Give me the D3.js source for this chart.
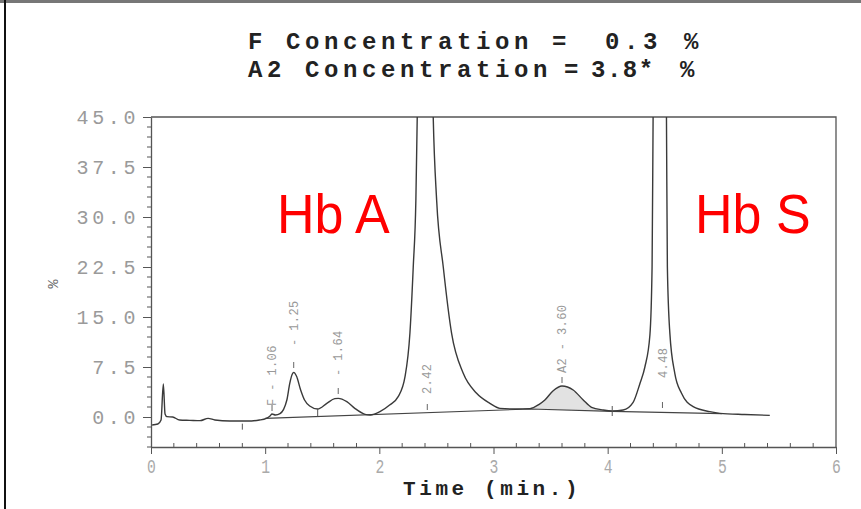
<!DOCTYPE html>
<html><head><meta charset="utf-8">
<script src="https://cdn.jsdelivr.net/npm/d3@7"></script>
<style>body{margin:0;background:#fff}svg{display:block}</style>
</head><body><svg id="c" width="861" height="509"></svg>
<script>
// ---- data ----
const timeMin = [0.01,0.06,0.088,0.108,0.123,0.14,0.19,0.25,0.34,0.43,0.50,0.56,0.69,0.84,0.95,1.01,1.045,1.06,1.09,1.13,1.19,1.215,1.237,1.25,1.275,1.31,1.345,1.39,1.46,1.54,1.61,1.64,1.715,1.785,1.875,1.92,2.005,2.09,2.165,2.225,2.268,2.297,2.32,2.332,2.37,2.42,2.45,2.472,2.502,2.56,2.633,2.735,2.852,2.968,3.056,3.19,3.32,3.40,3.45,3.523,3.60,3.698,3.786,3.859,3.96,4.04,4.136,4.223,4.282,4.326,4.37,4.389,4.398,4.43,4.48,4.50,4.515,4.523,4.545,4.588,4.647,4.749,4.895,4.982,5.20,5.42];
const signalPct = [-1.2,-1.05,-0.45,4.95,0.45,0.05,0.0,-0.45,-0.5,-0.55,-0.2,-0.45,-0.6,-0.6,-0.45,-0.2,0.2,0.45,0.3,0.5,2.55,5.0,6.4,6.7,6.1,4.1,2.55,1.65,1.2,2.05,2.75,2.8,2.3,1.3,0.4,0.3,0.8,1.8,3.05,6.05,12.6,22.5,32.5,45,66,74,66,45,32.5,22.5,12.55,6.55,3.55,2.05,1.3,1.2,1.25,1.9,2.55,3.95,4.65,4.05,2.55,1.45,1.05,0.9,1.05,2.2,5.0,7.5,12.3,22.5,45,80,92,80,45,22.5,12.5,6.55,3.55,1.55,0.8,0.55,0.37,0.25];
const baselineTime = [1.0, 3.32, 4.04, 5.0];
const baselinePct  = [-0.2, 1.2, 0.85, 0.5];
const a2Range = [3.32, 4.04];
const peakTimes  = [1.06, 1.25, 1.64, 2.42, 3.60, 4.48];
const peakLabels = ["F - 1.06", "-  1.25", "-  1.64", "2.42", "A2 - 3.60", "4.48"];
const peakLabelAt = [1.65, 10.65, 6.15, 3.45, 6.6, 5.85];
const peakTickAt  = [0.9, 7.35, 3.45, 1.05, 5.1, 1.35];
const markTime   = [0.8, 1.46, 4.04];
const markTop    = [-1.0, 1.2, 1.65];
const markBottom = [-1.9, 0.08, 0.15];
const yTicks = [0, 7.5, 15, 22.5, 30, 37.5, 45];
const yTickLabels = ["0.0","7.5","15.0","22.5","30.0","37.5","45.0"];
const xTicks = [0,1,2,3,4,5,6];
const xTickLabels = ["0","1","2","3","4","5","6"];
const titleLine1 = ["F Concentration =", "0.3", "%"];
const titleLine2 = ["A2 Concentration", "=", "3.8*", "%"];
const xTitle = "Time (min.)";
const yTitle = "%";
const peakNames = ["Hb A", "Hb S"];

// ---- drawing ----
const svg = d3.select("#c");
const x = d3.scaleLinear().domain([0, 6]).range([151, 836]);
const y = d3.scaleLinear().domain([-4.5, 45]).range([447, 117]);
const mono = "'Liberation Mono', 'Courier New', monospace";

// page edges
svg.append("line").attr("x1",0).attr("x2",861).attr("y1",1.5).attr("y2",1.5).attr("stroke","#777").attr("stroke-width",3);
svg.append("line").attr("x1",5).attr("x2",5).attr("y1",0).attr("y2",509).attr("stroke","#111").attr("stroke-width",2);

// title
const t1 = svg.append("text").attr("font-family",mono).attr("font-weight","bold").attr("font-size",24).attr("fill","#222").attr("y",49);
t1.append("tspan").attr("x",248).attr("letter-spacing",4.6).text(titleLine1[0]);
t1.append("tspan").attr("x",605).attr("letter-spacing",4.6).text(titleLine1[1]);
t1.append("tspan").attr("x",684).text(titleLine1[2]);
const t2 = svg.append("text").attr("font-family",mono).attr("font-weight","bold").attr("font-size",24).attr("fill","#222").attr("y",77);
t2.append("tspan").attr("x",248).attr("letter-spacing",4.6).text(titleLine2[0]);
t2.append("tspan").attr("x",564).text(titleLine2[1]);
t2.append("tspan").attr("x",591).attr("letter-spacing",1.5).text(titleLine2[2]);
t2.append("tspan").attr("x",680).text(titleLine2[3]);

// frame (top and right)
svg.append("path").attr("d",`M${x(0)},${y(45)}H${x(6)}V${y(-4.5)}`).attr("fill","none").attr("stroke","#555").attr("stroke-width",1.3);

// y axis
const gy = svg.append("g").attr("transform",`translate(${x(0)},0)`)
  .call(d3.axisLeft(y).tickValues(yTicks).tickFormat((d,i)=>yTickLabels[i]).tickSize(8).tickSizeOuter(0).tickPadding(4));
gy.select(".domain").attr("stroke","#555").attr("stroke-width",1.3);
gy.selectAll(".tick line").attr("stroke","#555");
gy.selectAll(".tick text").attr("font-family",mono).attr("font-size",20).attr("letter-spacing",3.6).attr("fill","#9a9a9a");
const yMinor = d3.range(-4.5, 45.001, 1.5).filter(v => !yTicks.some(t => Math.abs(t-v) < 1e-6));
gy.selectAll(".minor").data(yMinor).join("line").attr("class","minor")
  .attr("x1",-4).attr("x2",0).attr("y1",d=>y(d)).attr("y2",d=>y(d)).attr("stroke","#555");

// x axis
const gx = svg.append("g").attr("transform",`translate(0,${y(-4.5)})`)
  .call(d3.axisBottom(x).tickValues(xTicks).tickFormat((d,i)=>xTickLabels[i]).tickSize(7).tickSizeOuter(0).tickPadding(4));
gx.select(".domain").attr("stroke","#555").attr("stroke-width",1.3);
gx.selectAll(".tick line").attr("stroke","#555");
gx.selectAll(".tick text").attr("font-family",mono).attr("font-size",21).attr("fill","#aaa").attr("transform","scale(0.7,1)");
const xMinor = d3.range(0, 6.001, 0.2).filter(v => Math.abs(v - Math.round(v)) > 1e-6);
gx.selectAll(".minor").data(xMinor).join("line").attr("class","minor")
  .attr("x1",d=>x(d)).attr("x2",d=>x(d)).attr("y1",0).attr("y2",-4).attr("stroke","#555");

// axis titles
svg.append("text").attr("x",403).attr("y",495).attr("font-family",mono).attr("font-weight","bold")
  .attr("font-size",21).attr("letter-spacing",3.6).attr("fill","#222").text(xTitle);
svg.append("text").attr("transform","translate(58,284) rotate(-90)").attr("text-anchor","middle")
  .attr("font-family",mono).attr("font-size",15).attr("fill","#666").text(yTitle);

// clip
svg.append("clipPath").attr("id","plot").append("rect")
  .attr("x",x(0)).attr("y",y(45)).attr("width",x(6)-x(0)).attr("height",y(-4.5)-y(45));
const plot = svg.append("g").attr("clip-path","url(#plot)");

const pts = timeMin.map((t,i)=>[t, signalPct[i]]);
const baseAt = t => {
  for (let i=0;i<baselineTime.length-1;i++){
    if (t>=baselineTime[i] && t<=baselineTime[i+1]){
      const f=(t-baselineTime[i])/(baselineTime[i+1]-baselineTime[i]);
      return baselinePct[i]+f*(baselinePct[i+1]-baselinePct[i]);
    }
  }
  return baselinePct[baselinePct.length-1];
};

// A2 shaded area
const a2pts = pts.filter(p => p[0] >= a2Range[0]-1e-9 && p[0] <= a2Range[1]+1e-9);
plot.append("path").datum(a2pts)
  .attr("d", d3.area().x(d=>x(d[0])).y0(d=>y(baseAt(d[0]))).y1(d=>y(d[1])).curve(d3.curveMonotoneX))
  .attr("fill","#e2e2e2");

// baseline
plot.append("path").datum(baselineTime.map((t,i)=>[t, baselinePct[i]]))
  .attr("d", d3.line().x(d=>x(d[0])).y(d=>y(d[1])))
  .attr("fill","none").attr("stroke","#444").attr("stroke-width",1.1);

// trace
plot.append("path").datum(pts)
  .attr("d", d3.line().x(d=>x(d[0])).y(d=>y(d[1])).curve(d3.curveMonotoneX))
  .attr("fill","none").attr("stroke","#3a3a3a").attr("stroke-width",1.4);

// event marks
plot.selectAll(".mark").data(markTime).join("line").attr("class","mark")
  .attr("x1",d=>x(d)).attr("x2",d=>x(d)).attr("y1",(d,i)=>y(markTop[i])).attr("y2",(d,i)=>y(markBottom[i]))
  .attr("stroke","#555").attr("stroke-width",1);

// peak ticks
plot.selectAll(".ptick").data(peakTimes).join("line").attr("class","ptick")
  .attr("x1",d=>x(d)).attr("x2",d=>x(d)).attr("y1",(d,i)=>y(peakTickAt[i])).attr("y2",(d,i)=>y(peakTickAt[i])-6)
  .attr("stroke","#666").attr("stroke-width",1);

// peak labels
plot.selectAll(".plab").data(peakTimes).join("text").attr("class","plab")
  .attr("transform",(d,i)=>`translate(${x(d)},${y(peakLabelAt[i])}) rotate(-90)`)
  .attr("dy","0.35em").attr("font-family",mono).attr("font-size",12).attr("letter-spacing",0.4)
  .attr("fill","#999").text((d,i)=>peakLabels[i]);

// red annotations
svg.append("text").attr("transform","translate(277,233) scale(1,1.07)")
  .attr("font-family","'Liberation Sans', Arial, sans-serif").attr("font-size",52).attr("fill","#ff0000").text(peakNames[0]);
svg.append("text").attr("transform","translate(695,233) scale(1,1.07)")
  .attr("font-family","'Liberation Sans', Arial, sans-serif").attr("font-size",52).attr("fill","#ff0000").text(peakNames[1]);
</script>
</body></html>
